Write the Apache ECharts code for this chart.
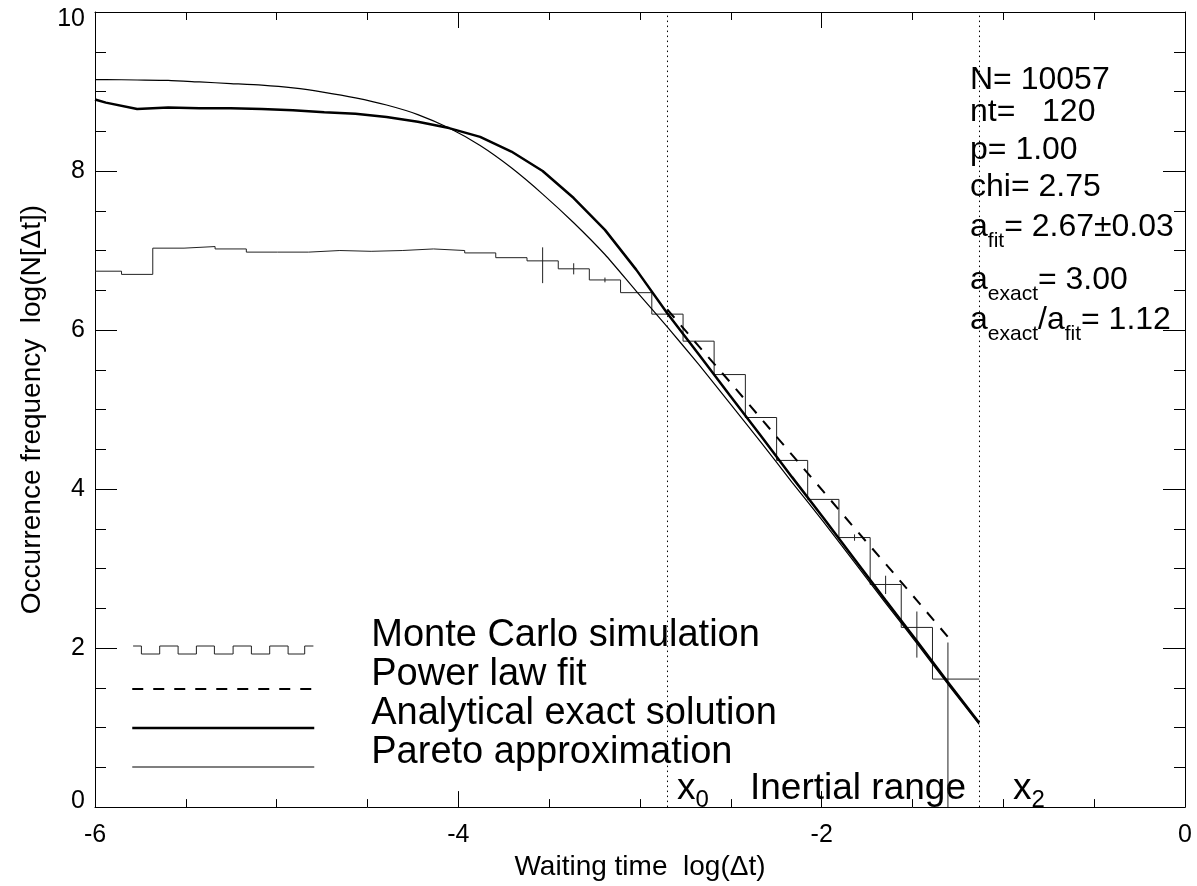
<!DOCTYPE html>
<html>
<head>
<meta charset="utf-8">
<script src="https://cdn.jsdelivr.net/npm/echarts@6/dist/echarts.min.js"></script>
<style>html,body{margin:0;padding:0;background:#fff}#c{width:1197px;height:886px}</style>
</head>
<body>
<div id="c"></div>
<script>
// ---- data ----
const binEdges = [-6.0, -5.854, -5.682, -5.510, -5.339, -5.167, -4.996, -4.824, -4.652, -4.480,
  -4.309, -4.137, -3.965, -3.794, -3.622, -3.450, -3.279, -3.107, -2.935, -2.763,
  -2.592, -2.420, -2.248, -2.077, -1.905, -1.733, -1.562, -1.390, -1.133];
const mcValues = [6.74, 6.70, 7.03, 7.05, 7.02, 6.98, 6.98, 7.00, 6.99, 7.00,
  7.02, 7.00, 6.97, 6.91, 6.87, 6.77, 6.63, 6.47, 6.20, 5.86,
  5.44, 4.90, 4.36, 3.87, 3.39, 2.80, 2.26, 1.61];
const errX = [-3.536, -3.365, -3.193, -1.819, -1.648, -1.476, -1.305];
const errLo = [6.59, 6.70, 6.60, 3.35, 2.68, 1.88, 0.0];
const errHi = [7.04, 6.84, 6.66, 3.43, 2.91, 2.46, 2.07];
const curveX = [-6.0, -5.940, -5.768, -5.597, -5.425, -5.253, -5.082, -4.910, -4.738, -4.566,
  -4.395, -4.223, -4.051, -3.880, -3.708, -3.536, -3.365, -3.193, -3.021, -2.850,
  -2.678, -2.506, -2.335, -2.163, -1.991, -1.820, -1.648, -1.476, -1.305, -1.133];
const exactY = [8.90, 8.86, 8.78, 8.80, 8.79, 8.79, 8.78, 8.765, 8.74, 8.72,
  8.68, 8.62, 8.54, 8.43, 8.245, 8.00, 7.66, 7.26, 6.76, 6.21,
  5.70, 5.18, 4.67, 4.15, 3.64, 3.12, 2.60, 2.09, 1.57, 1.06];
const paretoY = [9.15, 9.15, 9.145, 9.14, 9.12, 9.10, 9.08, 9.045, 8.99, 8.92,
  8.83, 8.71, 8.54, 8.32, 8.04, 7.71, 7.35, 6.95, 6.49, 6.04,
  5.57, 5.08, 4.59, 4.085, 3.59, 3.08, 2.565, 2.06, 1.545, 1.04];
const fitX = [-2.850, -2.678, -2.506, -2.335, -2.163, -1.991, -1.820, -1.648, -1.476, -1.305];
const fitY = [6.26, 5.80, 5.35, 4.89, 4.43, 3.97, 3.51, 3.06, 2.60, 2.14];
const rangeMarks = [-2.850, -1.133];   // x0, x2
const seriesNames = ['Monte Carlo simulation', 'Power law fit', 'Analytical exact solution', 'Pareto approximation'];
const xTitle = 'Waiting time  log(\u0394t)';
const yTitle = 'Occurrence frequency  log(N[\u0394t])';
const statLines = [
  '{m|N= 10057}',
  '{m|nt=   120}',
  '{m|p= 1.00}',
  '{m|chi= 2.75}',
  '{m|a}{s|fit}{m|= 2.67\u00b10.03}',
  '{m|a}{s|exact}{m|= 3.00}',
  '{m|a}{s|exact}{m|/a}{s|fit}{m|= 1.12}'
];
const rangeLabels = ['{m|x}{s|0}', '{m|Inertial range}', '{m|x}{s|2}'];

// ---- layout / style ----
const FONT = '"Liberation Sans", Arial, Helvetica, sans-serif';
const statTop = [64, 96, 134, 171, 211, 264, 304];
const rangeLeft = [677, 750, 1013];

const zip = (xs, ys) => xs.map((x, i) => [x, ys[i]]);
const histData = binEdges.map((x, i) => [x, mcValues[Math.min(i, mcValues.length - 1)]]);
const errData = errX.map((x, i) => [x, errLo[i], errHi[i]]);

function axisCommon(extra) {
  return Object.assign({
    type: 'value',
    axisLine: { show: true, onZero: false, lineStyle: { color: '#000', width: 1 } },
    splitLine: { show: false },
    minorSplitLine: { show: false }
  }, extra);
}

const statRich = {
  m: { fontSize: 32, lineHeight: 32, fontFamily: FONT, fill: '#000', verticalAlign: 'top' },
  s: { fontSize: 21, lineHeight: 21, fontFamily: FONT, fill: '#000', verticalAlign: 'top', padding: [20, 0, 0, 0] }
};
const rangeRich = {
  m: { fontSize: 37, lineHeight: 37, fontFamily: FONT, fill: '#000', verticalAlign: 'top' },
  s: { fontSize: 24, lineHeight: 24, fontFamily: FONT, fill: '#000', verticalAlign: 'top', padding: [18, 0, 0, 0] }
};
const graphics = [];
statLines.forEach((t, i) => graphics.push({
  type: 'text', x: 970, y: statTop[i], silent: true,
  style: { text: t, rich: statRich, align: 'left', verticalAlign: 'top', fill: '#000' }
}));
rangeLabels.forEach((t, i) => graphics.push({
  type: 'text', x: rangeLeft[i], y: 770, silent: true,
  style: { text: t, rich: rangeRich, align: 'left', verticalAlign: 'top', fill: '#000' }
}));

const option = {
  animation: false,
  backgroundColor: '#fff',
  grid: { left: 95, top: 12, right: 12, bottom: 78, containLabel: false },
  xAxis: [
    axisCommon({
      position: 'bottom', min: -6, max: 0, interval: 2,
      axisTick: { show: true, inside: true, length: 16, lineStyle: { color: '#000', width: 1 } },
      minorTick: { show: true, splitNumber: 4, length: 8, lineStyle: { color: '#000', width: 1 } },
      axisLabel: { show: true, color: '#000', fontSize: 25, fontFamily: FONT, margin: 16 },
      name: xTitle, nameLocation: 'middle', nameGap: 44,
      nameTextStyle: { color: '#000', fontSize: 28, fontFamily: FONT }
    }),
    axisCommon({
      position: 'top', min: -6, max: 0, interval: 2,
      axisTick: { show: true, inside: true, length: 16, lineStyle: { color: '#000', width: 1 } },
      minorTick: { show: true, splitNumber: 4, length: 8, lineStyle: { color: '#000', width: 1 } },
      axisLabel: { show: false }
    })
  ],
  yAxis: [
    axisCommon({
      position: 'left', min: 0, max: 10, interval: 2,
      axisTick: { show: true, inside: true, length: 22, lineStyle: { color: '#000', width: 1 } },
      minorTick: { show: true, splitNumber: 4, length: 11, lineStyle: { color: '#000', width: 1 } },
      axisLabel: {
        show: true, color: '#000', fontSize: 25, fontFamily: FONT, margin: 10,
        formatter: v => v === 0 ? '{lo|0}' : (v === 10 ? '{hi|10}' : '{n|' + v + '}'),
        rich: {
          n: { color: '#000', fontSize: 25, fontFamily: FONT },
          lo: { color: '#000', fontSize: 25, fontFamily: FONT, padding: [0, 0, 12, 0] },
          hi: { color: '#000', fontSize: 25, fontFamily: FONT, padding: [14, 0, 0, 0] }
        }
      },
      name: yTitle, nameLocation: 'middle', nameGap: 36, nameRotate: 90,
      nameTextStyle: { color: '#000', fontSize: 28, fontFamily: FONT }
    }),
    axisCommon({
      position: 'right', min: 0, max: 10, interval: 2,
      axisTick: { show: true, inside: true, length: 22, lineStyle: { color: '#000', width: 1 } },
      minorTick: { show: true, splitNumber: 4, length: 11, lineStyle: { color: '#000', width: 1 } },
      axisLabel: { show: false }
    })
  ],
  legend: {
    show: true, orient: 'vertical', left: 131, top: 617, padding: 0, itemGap: -27,
    itemWidth: 182, itemHeight: 8, selectedMode: false,
    itemStyle: { color: 'transparent', borderColor: 'transparent', borderWidth: 0 },
    formatter: name => '{t|' + name + '}',
    textStyle: {
      color: '#000', fontSize: 38, lineHeight: 38, fontFamily: FONT, padding: [0, 0, 28, 52],
      rich: { t: { color: '#000', fontSize: 38, lineHeight: 38, fontFamily: FONT } }
    },
    data: [
      { name: seriesNames[0],
        icon: 'path://M0,0H8.3V8H26.6V0H45V8H63.3V0H81.3V8H100V0H118.3V8H136.6V0H155V8H171.6V0H180.3',
        itemStyle: { color: 'transparent', borderColor: '#222', borderWidth: 1 } },
      { name: seriesNames[1], lineStyle: { color: '#000', width: 2, type: [11, 10] } },
      { name: seriesNames[2], lineStyle: { color: '#000', width: 2.5, type: 'solid' } },
      { name: seriesNames[3], lineStyle: { color: '#000', width: 1.2, type: 'solid' } }
    ]
  },
  graphic: graphics,
  series: [
    {
      name: seriesNames[0], type: 'line', step: 'end', data: histData,
      symbol: 'none', color: '#222',
      lineStyle: { color: '#222', width: 1 }, z: 2
    },
    {
      name: 'errors', type: 'custom', data: errData, encode: { x: 0, y: [1, 2] }, z: 2,
      renderItem: function (params, api) {
        const x = api.value(0);
        const p1 = api.coord([x, api.value(1)]);
        const p2 = api.coord([x, api.value(2)]);
        return { type: 'line', shape: { x1: p1[0], y1: p1[1], x2: p2[0], y2: p2[1] },
          style: { stroke: '#222', lineWidth: 1 } };
      }
    },
    {
      name: seriesNames[1], type: 'line', data: zip(fitX, fitY), symbol: 'none', color: '#000',
      lineStyle: { color: '#000', width: 2, type: [11, 10] }, z: 3,
      markLine: {
        silent: true, symbol: ['none', 'none'], label: { show: false },
        lineStyle: { color: '#000', width: 1, type: [1.5, 3.5] },
        data: rangeMarks.map(v => ({ xAxis: v }))
      }
    },
    {
      name: seriesNames[2], type: 'line', data: zip(curveX, exactY), symbol: 'none', color: '#000',
      lineStyle: { color: '#000', width: 2.5 }, z: 4
    },
    {
      name: seriesNames[3], type: 'line', data: zip(curveX, paretoY), symbol: 'none', color: '#000',
      smooth: 0.2, lineStyle: { color: '#000', width: 1.2 }, z: 4
    }
  ]
};
const chart = echarts.init(document.getElementById('c'), null, { renderer: 'canvas' });
chart.setOption(option);
</script>
</body>
</html>
